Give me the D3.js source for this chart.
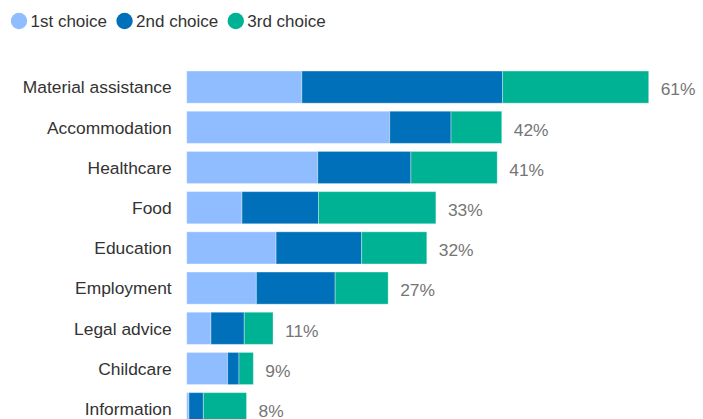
<!DOCTYPE html>
<html>
<head>
<meta charset="utf-8">
<script src="https://cdn.jsdelivr.net/npm/d3@7"></script>
<style>
  html, body { margin: 0; padding: 0; background: #fff; }
  svg { display: block; font-family: "Liberation Sans", Arial, sans-serif; }
</style>
</head>
<body>
<svg id="chart" width="703" height="419"></svg>
<script>
const categories = ["Material assistance", "Accommodation", "Healthcare", "Food", "Education", "Employment", "Legal advice", "Childcare", "Information"];
const seriesNames = ["1st choice", "2nd choice", "3rd choice"];
const firstChoice  = [15.2, 26.8, 17.3, 7.3, 11.8, 9.2, 3.2, 5.4, 0.3];
const secondChoice = [26.5, 8.1, 12.3, 10.1, 11.3, 10.4, 4.4, 1.5, 1.9];
const thirdChoice  = [19.3, 6.7, 11.4, 15.5, 8.6, 7.0, 3.8, 1.9, 5.7];
const totalLabels  = ["61%", "42%", "41%", "33%", "32%", "27%", "11%", "9%", "8%"];
const colors = ["#8fbdff", "#0070ba", "#00b294"];

const svg = d3.select("#chart");

const table = categories.map((c, i) => ({
  category: c,
  "1st choice": firstChoice[i],
  "2nd choice": secondChoice[i],
  "3rd choice": thirdChoice[i],
  label: totalLabels[i]
}));

const stack = d3.stack().keys(seriesNames)(table);

const x = d3.scaleLinear().domain([0, 70]).range([186.7, 186.7 + 70 * 7.574]);
const y = d3.scaleBand().domain(categories).range([67, 67 + 9 * 40.2]).paddingInner(0.2).paddingOuter(0.1);
const color = d3.scaleOrdinal().domain(seriesNames).range(colors);

// bars
svg.append("g").selectAll("g")
  .data(stack)
  .join("g")
  .attr("fill", d => color(d.key))
  .selectAll("rect")
  .data(d => d)
  .join("rect")
  .attr("x", d => x(d[0]))
  .attr("y", d => y(d.data.category))
  .attr("width", d => x(d[1]) - x(d[0]))
  .attr("height", y.bandwidth())
  .attr("stroke", "rgba(255,255,255,0.35)")
  .attr("stroke-width", 1);

// category axis labels
const yAxis = d3.axisLeft(y).tickSize(0).tickPadding(15);
const ga = svg.append("g").attr("transform", `translate(${x(0)},0)`).call(yAxis);
ga.select(".domain").remove();
ga.selectAll("text")
  .attr("font-size", "17.4px")
  .attr("font-family", "'Liberation Sans', Arial, sans-serif")
  .attr("fill", "#333")
  .attr("dy", "0.36em");

// total labels
const last = stack[stack.length - 1];
svg.append("g").selectAll("text")
  .data(last)
  .join("text")
  .attr("x", d => x(d[1]) + 12)
  .attr("y", d => y(d.data.category) + y.bandwidth() / 2 + 8.3)
  .attr("font-size", "17.4px")
  .attr("fill", "#757575")
  .text(d => d.data.label);

// legend
const legend = svg.append("g");
let lx = 11;
seriesNames.forEach((name, i) => {
  const g = legend.append("g");
  g.append("circle").attr("cx", lx + 8).attr("cy", 21).attr("r", 8.2).attr("fill", color(name));
  const t = g.append("text").attr("x", lx + 19.5).attr("y", 26.7)
    .attr("font-size", "17px").attr("fill", "#333").text(name);
  lx += 19.5 + t.node().getComputedTextLength() + 9.5;
});
</script>
</body>
</html>
